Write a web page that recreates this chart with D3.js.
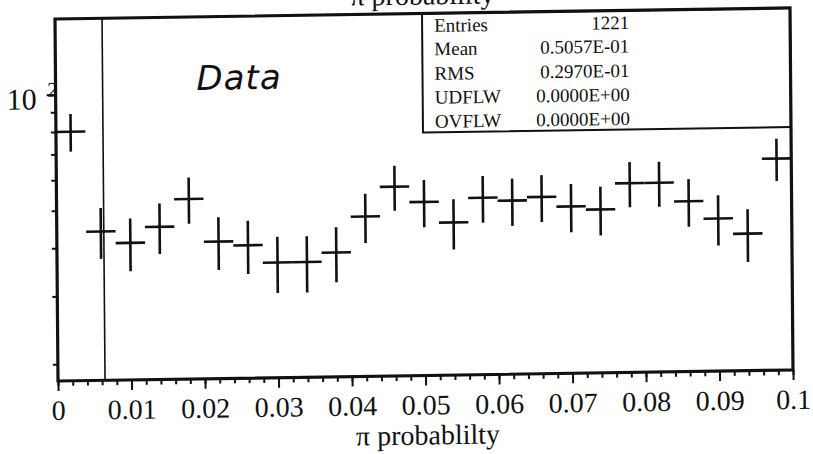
<!DOCTYPE html>
<html>
<head>
<meta charset="utf-8">
<script src="https://cdn.jsdelivr.net/npm/d3@7"></script>
<style>
  body { margin: 0; background: #fff; }
  svg text { font-family: "Liberation Serif", "Times New Roman", serif; fill: #111; }
</style>
</head>
<body>
<svg id="chart" width="813" height="454"></svg>
<script>
// Histogram contents, 25 equal bins over [0, 0.1]
const counts = [80, 44, 41, 45, 53, 41, 40, 36, 36, 38, 47, 56, 51, 45, 52, 51, 52, 49, 48, 56, 56, 50, 45, 41, 64];
const xRange = [0, 0.1];
const xTickValues = [0, 0.01, 0.02, 0.03, 0.04, 0.05, 0.06, 0.07, 0.08, 0.09, 0.1];
const xTickLabels = ["0", "0.01", "0.02", "0.03", "0.04", "0.05", "0.06", "0.07", "0.08", "0.09", "0.1"];
const xMinorStep = 0.002;
const yRange = [18.1, 157];
const yMajorTicks = [100];
const yMinorTicks = [20, 30, 40, 50, 60, 70, 80, 90];
const cutValue = 0.0064;
const statNames = ["Entries", "Mean", "RMS", "UDFLW", "OVFLW"];
const statValues = ["1221", "0.5057E-01", "0.2970E-01", "0.0000E+00", "0.0000E+00"];
const titleText = "π probability";
const xLabelText = "π probablilty";
const noteText = "Data";

const W = 735, H = 362;
const svg = d3.select("#chart");
svg.append("rect").attr("width", 813).attr("height", 454).attr("fill", "#fff");

// the printed sheet sits slightly tilted on the page
const g = svg.append("g").attr("transform", "matrix(1,-0.01497,0.00829,1,55,19)");

const x = d3.scaleLinear().domain(xRange).range([0, W]);
const y = d3.scaleLog().domain(yRange).range([H, 0]);

// title (mostly above the page edge)
g.append("text").attr("x", W / 2).attr("y", -9).attr("text-anchor", "middle")
  .attr("font-size", 28).text(titleText);

// x axis: minor and major ticks hanging below the frame
const xMinor = d3.range(xRange[0], xRange[1] + 1e-9, xMinorStep);
g.append("g").attr("transform", `translate(0,${H})`)
  .call(d3.axisBottom(x).tickValues(xMinor).tickSize(5).tickFormat(""))
  .call(a => a.select(".domain").remove())
  .call(a => a.selectAll("line").attr("stroke", "#111").attr("stroke-width", 2));

const xAx = g.append("g").attr("transform", `translate(0,${H})`)
  .call(d3.axisBottom(x).tickValues(xTickValues).tickSize(10)
    .tickFormat((d, i) => xTickLabels[i]))
  .call(a => a.select(".domain").remove())
  .call(a => a.selectAll("line").attr("stroke", "#111").attr("stroke-width", 2));
xAx.selectAll("text").attr("y", 39).attr("dy", null)
  .attr("font-size", 28).attr("fill", "#111")
  .style("font-family", "'Liberation Serif', serif");

g.append("text").attr("x", W / 2 + 2).attr("y", H + 69).attr("text-anchor", "middle")
  .attr("font-size", 28).text(xLabelText);

// y axis (log)
g.append("g")
  .call(d3.axisLeft(y).tickValues(yMinorTicks).tickSize(5).tickFormat(""))
  .call(a => a.select(".domain").remove())
  .call(a => a.selectAll("line").attr("stroke", "#111").attr("stroke-width", 2));
g.append("g")
  .call(d3.axisLeft(y).tickValues(yMajorTicks).tickSize(9).tickFormat(""))
  .call(a => a.select(".domain").remove())
  .call(a => a.selectAll("line").attr("stroke", "#111").attr("stroke-width", 2));

yMajorTicks.forEach(v => {
  const yy = y(v);
  g.append("text").attr("x", -19).attr("y", yy + 14.5).attr("text-anchor", "end")
    .attr("font-size", 30).text("10");
  g.append("text").attr("x", -8.5).attr("y", yy + 2).attr("font-size", 21)
    .text(Math.round(Math.log10(v)));
});

// cut line
g.append("line").attr("x1", x(cutValue)).attr("x2", x(cutValue))
  .attr("y1", 0).attr("y2", H).attr("stroke", "#111").attr("stroke-width", 1.6);

// data crosses: bin width horizontally, sqrt(N) errors vertically
const nb = counts.length;
const bw = (xRange[1] - xRange[0]) / nb;
const bins = counts.map((c, i) => ({ lo: xRange[0] + i * bw, hi: xRange[0] + (i + 1) * bw, c }));
const marks = g.append("g").attr("stroke", "#111").attr("stroke-width", 2.6);
marks.selectAll("line.h").data(bins).join("line").attr("class", "h")
  .attr("x1", d => x(d.lo)).attr("x2", d => x(d.hi))
  .attr("y1", d => y(d.c)).attr("y2", d => y(d.c));
marks.selectAll("line.v").data(bins).join("line").attr("class", "v")
  .attr("x1", d => x((d.lo + d.hi) / 2)).attr("x2", d => x((d.lo + d.hi) / 2))
  .attr("y1", d => y(d.c + Math.sqrt(d.c))).attr("y2", d => y(d.c - Math.sqrt(d.c)));

// handwritten note
g.append("text").attr("x", 141).attr("y", 73).attr("font-size", 34)
  .attr("font-style", "italic").attr("font-weight", 200)
  .style("font-family", "'DejaVu Sans', sans-serif").attr("letter-spacing", 1)
  .text(noteText);

// statistics box
const boxX = 367, boxH = 119;
g.append("rect").attr("x", boxX).attr("y", 0).attr("width", W - boxX).attr("height", boxH)
  .attr("fill", "#fff").attr("stroke", "#111").attr("stroke-width", 2);
const rowY = [18.5, 42, 66.5, 90.5, 114.5];
statNames.forEach((n, i) => {
  g.append("text").attr("x", boxX + 12).attr("y", rowY[i]).attr("font-size", 19).text(n);
  g.append("text").attr("x", 574).attr("y", rowY[i]).attr("font-size", 19)
    .attr("text-anchor", "end").text(statValues[i]);
});

// frame
g.append("rect").attr("x", 0).attr("y", 0).attr("width", W).attr("height", H)
  .attr("fill", "none").attr("stroke", "#111").attr("stroke-width", 3.2);
</script>
</body>
</html>
